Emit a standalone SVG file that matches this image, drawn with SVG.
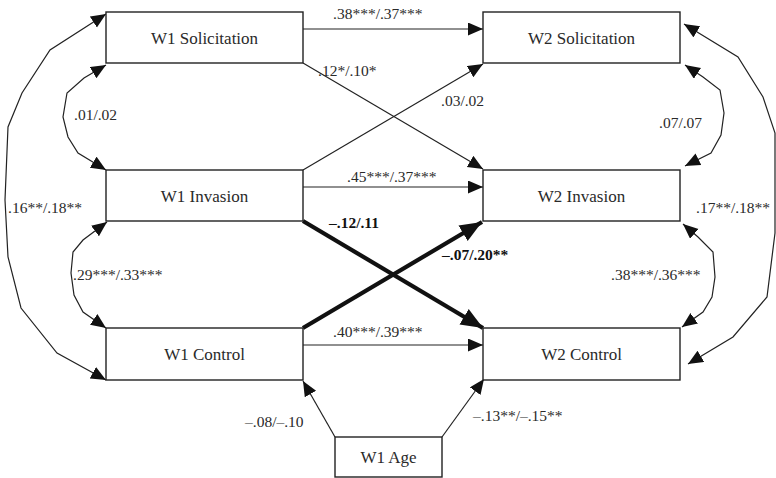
<svg xmlns="http://www.w3.org/2000/svg" width="776" height="478" viewBox="0 0 776 478">
<style>
.box{fill:#fff;stroke:#222;stroke-width:1.4}
.nt{font-size:17px;fill:#2a2a2a;text-anchor:middle}
.lb{font-size:15.5px;fill:#2a2a2a}
.bd{font-weight:bold;fill:#111}
.ln{fill:none;stroke:#222;stroke-width:1.2;marker-end:url(#ah)}
.dl{fill:none;stroke:#222;stroke-width:1.2;marker-start:url(#ah);marker-end:url(#ah)}
.bl{fill:none;stroke:#111;stroke-width:4.2;marker-end:url(#bh)}
</style>
<defs>
<marker id="ah" markerUnits="userSpaceOnUse" markerWidth="16" markerHeight="14" viewBox="0 0 16 14" refX="15" refY="6.5" orient="auto-start-reverse">
<path d="M0,0 L15,6.5 L0,13 z" fill="#111"/>
</marker>
<marker id="bh" markerUnits="userSpaceOnUse" markerWidth="24" markerHeight="20" viewBox="0 0 24 20" refX="22" refY="9" orient="auto">
<path d="M0,0 L22,9 L0,18 z" fill="#111"/>
</marker>
</defs>

<g id="connectors" font-family="'Liberation Serif', 'Times New Roman', Times, serif">
<line class="ln" x1="303" y1="29" x2="483" y2="29"/>
<line class="ln" x1="303" y1="63" x2="483" y2="169"/>
<line class="ln" x1="303" y1="170" x2="483" y2="64"/>
<line class="ln" x1="303" y1="187" x2="483" y2="187"/>
<line class="ln" x1="303" y1="345" x2="483" y2="345"/>
<line class="bl" x1="303" y1="221" x2="483" y2="328"/>
<line class="bl" x1="303" y1="328" x2="482" y2="222"/>
<line class="ln" x1="335" y1="437" x2="303" y2="381"/>
<line class="ln" x1="442" y1="437" x2="484" y2="379"/>
<polyline class="dl" points="106,14 50,50 22,93 8,127 5,200 8,257 21,308 57,353 106,380"/>
<polyline class="dl" points="106,65 84,78 67,93 63,117 68,137 78,153 106,170"/>
<polyline class="dl" points="107,222 83,240 73,252 71,273 74,295 83,312 106,328"/>
<polyline class="dl" points="685,65 703,77 720,90 724,113 721,135 711,153 685,166"/>
<polyline class="dl" points="683,224 698,237 713,252 715,277 712,297 703,312 682,327"/>
<polyline class="dl" points="684,24 738,57 763,97 775,133 775,233 767,297 733,337 688,364"/>
<text class="lb" x="333" y="19">.38***/.37***</text>
<text class="lb" x="318" y="76">.12*/.10*</text>
<text class="lb" x="441" y="106">.03/.02</text>
<text class="lb" x="347" y="182">.45***/.37***</text>
<text class="lb bd" x="329" y="228">–.12/.11</text>
<text class="lb bd" x="442" y="260">–.07/.20**</text>
<text class="lb" x="333" y="337">.40***/.39***</text>
<text class="lb" x="74" y="120">.01/.02</text>
<text class="lb" x="73" y="280">.29***/.33***</text>
<text class="lb" x="8" y="213">.16**/.18**</text>
<text class="lb" x="659" y="128">.07/.07</text>
<text class="lb" x="611" y="280">.38***/.36***</text>
<text class="lb" x="696" y="213">.17**/.18**</text>
<text class="lb" x="245" y="427">–.08/–.10</text>
<text class="lb" x="473" y="421">–.13**/–.15**</text>
</g>

<g font-family="'Liberation Serif', 'Times New Roman', Times, serif">
<g id="w1sol"><rect class="box" x="106" y="12" width="197" height="51"/><text class="nt" x="204.5" y="44">W1 Solicitation</text></g>
<g id="w1inv"><rect class="box" x="106" y="170" width="197" height="51"/><text class="nt" x="204.5" y="202">W1 Invasion</text></g>
<g id="w1con"><rect class="box" x="106" y="328" width="197" height="52"/><text class="nt" x="204.5" y="360">W1 Control</text></g>
<g id="w2sol"><rect class="box" x="483" y="12" width="197" height="51"/><text class="nt" x="581.5" y="44">W2 Solicitation</text></g>
<g id="w2inv"><rect class="box" x="483" y="170" width="197" height="51"/><text class="nt" x="581.5" y="202">W2 Invasion</text></g>
<g id="w2con"><rect class="box" x="483" y="328" width="197" height="52"/><text class="nt" x="581.5" y="360">W2 Control</text></g>
<g id="w1age"><rect class="box" x="335" y="437" width="107" height="40"/><text class="nt" x="388.5" y="463">W1 Age</text></g>
</g>
</svg>
